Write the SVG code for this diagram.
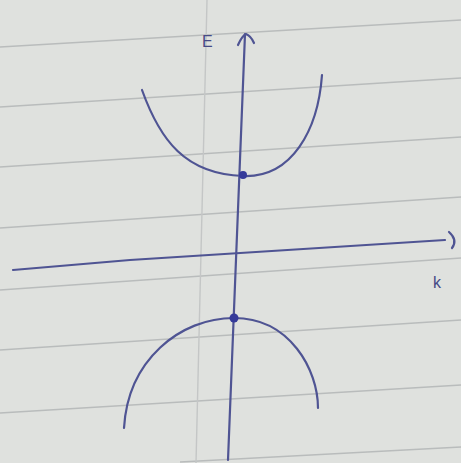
<svg xmlns="http://www.w3.org/2000/svg" width="461" height="463" viewBox="0 0 461 463">
<style>
.rule{stroke:#b9bcbc;stroke-width:1.6;fill:none}
.ink{stroke:#4f5493;stroke-width:2.2;fill:none;stroke-linecap:round;stroke-linejoin:round}
.lbl{font-family:"Liberation Sans",Arial,sans-serif;font-size:16px;fill:#464a86}
.dot{fill:#353a9a}
</style>
<rect width="461" height="463" fill="#dfe1de"/>
<g id="paper">
<path class="rule" d="M0,47 L461,20"/>
<path class="rule" d="M0,107 L461,78"/>
<path class="rule" d="M0,167 L461,137"/>
<path class="rule" d="M0,228 L461,197"/>
<path class="rule" d="M0,290 L461,258"/>
<path class="rule" d="M0,350 L461,320"/>
<path class="rule" d="M0,413 L461,385"/>
<path class="rule" d="M180,462 L461,447"/>
<path d="M207,0 L196,463" stroke="#c4c6c6" stroke-width="1.4" fill="none"/>
</g>
<g id="axes">
<path id="e-axis" class="ink" d="M245,34 L228,460"/>
<path class="ink" d="M238,45 Q242,36 246,34 Q251,36 254,43"/>
<path id="k-axis" class="ink" d="M13,270 Q60,266 130,260 Q240,253 445,240"/>
<path class="ink" d="M449,232 Q458,240 452,248"/>
</g>
<g id="curves">
<path id="upper-band" class="ink" d="M142,90 C160,140 185,174 243,176 C292,178 318,130 322,75"/>
<path id="lower-band" class="ink" d="M124,428 C128,360 180,318 234,318 C290,318 318,370 318,408"/>
</g>
<g id="points">
<circle class="dot" cx="243" cy="175" r="4"/>
<circle class="dot" cx="234" cy="318" r="4.5"/>
</g>
<g id="labels">
<text class="lbl" x="202" y="47">E</text>
<text class="lbl" x="433" y="288">k</text>
</g>
</svg>
